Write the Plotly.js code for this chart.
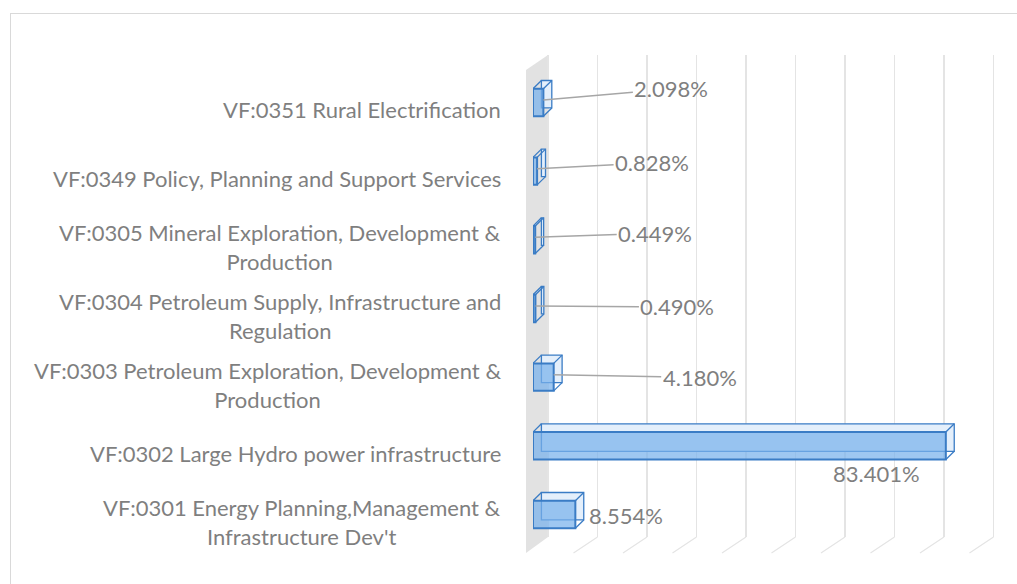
<!DOCTYPE html>
<html>
<head>
<meta charset="utf-8">
<script src="https://cdn.plot.ly/plotly-3.0.1.min.js"></script>
<style>
  html, body { margin: 0; padding: 0; background: #ffffff; }
  #frame { position: absolute; left: 10px; top: 13px; width: 1100px; height: 600px;
           border: 1px solid #d9d9d9; box-sizing: border-box; }
  #chart { position: absolute; left: 0; top: 0; width: 1017px; height: 584px; }
</style>
</head>
<body>
<div id="frame"></div>
<div id="chart"></div>
<script>
// ---- data ----
const categories = [
  "VF:0301 Energy Planning,Management &<br>Infrastructure Dev't",
  "VF:0302 Large Hydro power infrastructure",
  "VF:0303 Petroleum Exploration, Development &<br>Production",
  "VF:0304 Petroleum Supply, Infrastructure and<br>Regulation",
  "VF:0305 Mineral Exploration, Development &<br>Production",
  "VF:0349 Policy, Planning and Support Services",
  "VF:0351 Rural Electrification"
];
const shares = [8.554, 83.401, 4.180, 0.490, 0.449, 0.828, 2.098];
const shareLabels = ["8.554%", "83.401%", "4.180%", "0.490%", "0.449%", "0.828%", "2.098%"];
const gridValues = [0, 10, 20, 30, 40, 50, 60, 70, 80, 90];

// label placement (pixel offsets from bar end) - layout only
const labelDx = [51, -69, 146, 142, 120, 115, 128];
const labelDy = [3, 30, 3, 1, -4, -6, -11];
const labelLeader = [false, false, true, true, true, true, true];

const textColor = "#7f7f7f";
const edgeColor = "#3a7cc5";
const fontFam = "Lato, 'Open Sans', sans-serif";
const barW = 0.4;
const frontOff = -0.236;
const depthX = 1.7;      // 3D depth along value axis (units)
const depthY = 0.12;     // 3D depth along category axis (units)

// back face (gives the 3D depth look)
const backTrace = {
  type: "bar", orientation: "h",
  y: categories, x: shares, base: depthX,
  width: barW, offset: frontOff + depthY,
  marker: { color: "#e4effb", line: { color: edgeColor, width: 1.3 } },
  hoverinfo: "skip", xaxis: "x", yaxis: "y"
};
// front face
const frontTrace = {
  type: "bar", orientation: "h",
  y: categories, x: shares,
  width: barW, offset: frontOff,
  marker: { color: "rgba(120,178,236,0.72)", line: { color: edgeColor, width: 2 } },
  hoverinfo: "x+y", xaxis: "x", yaxis: "y"
};
// carrier for the back-wall gridline axis
const gridCarrier = { type: "scatter", x: [], y: [], xaxis: "x2", yaxis: "y", hoverinfo: "skip" };

const annotations = [];
categories.forEach(function (c) {
  annotations.push({
    xref: "paper", yref: "y", x: -0.062, y: c, text: c, yshift: -10,
    showarrow: false, xanchor: "right", yanchor: "middle", align: "center",
    font: { family: fontFam, size: 22, color: textColor }
  });
});
shares.forEach(function (v, i) {
  const a = {
    xref: "x", yref: "y", x: v, y: categories[i], text: shareLabels[i],
    font: { family: fontFam, size: 22, color: textColor }
  };
  if (labelLeader[i]) {
    a.showarrow = true; a.arrowhead = 0; a.arrowwidth = 1.5; a.arrowcolor = "#a6a6a6";
    a.ax = labelDx[i]; a.ay = labelDy[i]; a.standoff = 0; a.startstandoff = 0;
  } else {
    a.showarrow = false; a.xshift = labelDx[i]; a.yshift = -labelDy[i];
  }
  annotations.push(a);
});

const shapes = [
  // grey back wall
  { type: "path", xref: "paper", yref: "paper", layer: "below",
    path: "M -0.0145,-0.0332 L -0.0145,0.9689 L 0.031,1 L 0.031,0 Z",
    fillcolor: "#e2e2e2", line: { width: 0 } }
];
// floor lines running from each gridline toward the viewer
gridValues.forEach(function (g) {
  if (g === 0) return;
  shapes.push({ type: "line", layer: "below",
    xref: "x2", xsizemode: "pixel", xanchor: g, x0: 0, x1: -24,
    yref: "paper", ysizemode: "pixel", yanchor: 0, y0: 0, y1: -16,
    line: { color: "#e4e4e4", width: 1.2 } });
});
// 3D box edges joining front face to back face (derived from the bar values)
shares.forEach(function (v, i) {
  const top = i + frontOff + barW;
  const bot = i + frontOff;
  [[0, top], [v, top], [v, bot]].forEach(function (p) {
    shapes.push({ type: "line", xref: "x", yref: "y",
      x0: p[0], y0: p[1], x1: p[0] + depthX, y1: p[1] + depthY,
      line: { color: edgeColor, width: 1.3 } });
  });
});

const layout = {
  width: 1017, height: 584,
  margin: { l: 533, r: 0, t: 55, b: 47 },
  paper_bgcolor: "rgba(0,0,0,0)",
  plot_bgcolor: "rgba(0,0,0,0)",
  showlegend: false,
  barmode: "overlay",
  xaxis: {
    range: [0, 97.78], showgrid: false, showticklabels: false, ticks: "",
    zeroline: false, showline: false
  },
  xaxis2: {
    overlaying: "x", anchor: "y", side: "bottom",
    range: [-3.03, 94.75], tickmode: "array", tickvals: gridValues,
    showticklabels: false, ticks: "",
    showgrid: true, gridcolor: "#e4e4e4", gridwidth: 1.2,
    zeroline: false, showline: false
  },
  yaxis: {
    type: "category", range: [-0.364, 6.655],
    showticklabels: false, ticks: "", showgrid: false, zeroline: false, showline: false
  },
  shapes: shapes,
  annotations: annotations
};

Plotly.newPlot("chart", [gridCarrier, backTrace, frontTrace], layout,
  { displayModeBar: false, staticPlot: true });
</script>
</body>
</html>
